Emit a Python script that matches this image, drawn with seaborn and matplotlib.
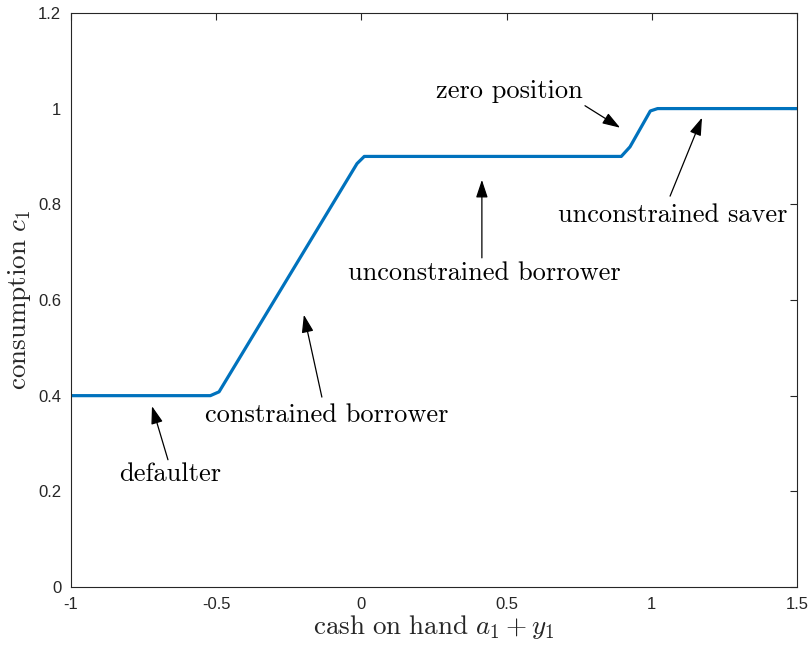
import matplotlib
matplotlib.use("Agg")
import matplotlib.pyplot as plt
import seaborn as sns
import pandas as pd

# Policy function: first-period consumption against cash on hand
cash = [-1.0, -0.52, -0.49, -0.015, 0.01, 0.895, 0.925, 0.995, 1.02, 1.5]
consumption = [0.4, 0.4, 0.408, 0.885, 0.9, 0.9, 0.92, 0.995, 1.0, 1.0]

# Region labels: (text, text position, arrow tail, arrow tip)
labels = ["zero position", "unconstrained saver", "unconstrained borrower",
          "constrained borrower", "defaulter"]
text_xy = [(0.51, 1.037), (1.073, 0.777), (0.425, 0.657), (-0.118, 0.36), (-0.66, 0.237)]
tail_xy = [(0.77, 1.006), (1.063, 0.817), (0.415, 0.688), (-0.136, 0.397), (-0.666, 0.266)]
tip_xy = [(0.891, 0.96), (1.173, 0.981), (0.415, 0.851), (-0.198, 0.569), (-0.721, 0.378)]

x_ticks = [-1, -0.5, 0, 0.5, 1, 1.5]
x_ticklabels = ["-1", "-0.5", "0", "0.5", "1", "1.5"]
y_ticks = [0, 0.2, 0.4, 0.6, 0.8, 1.0, 1.2]
y_ticklabels = ["0", "0.2", "0.4", "0.6", "0.8", "1", "1.2"]

sns.set_theme(style="white")
plt.rcParams["font.family"] = ["Liberation Sans", "DejaVu Sans"]
plt.rcParams["mathtext.fontset"] = "cm"

df = pd.DataFrame({"cash": cash, "consumption": consumption})

fig = plt.figure(figsize=(8.11, 6.48), dpi=100)
ax = fig.add_axes([0.0875, 0.0941, 0.8952, 0.886])

sns.lineplot(data=df, x="cash", y="consumption", ax=ax,
             color=(0.0, 0.447, 0.741), linewidth=2.3)

ax.set_xlim(-1, 1.5)
ax.set_ylim(0, 1.2)
ax.set_xticks(x_ticks)
ax.set_xticklabels(x_ticklabels)
ax.set_yticks(y_ticks)
ax.set_yticklabels(y_ticklabels)

edge = (0.15, 0.15, 0.15)
for s in ax.spines.values():
    s.set_visible(True)
    s.set_color(edge)
    s.set_linewidth(0.8)
ax.tick_params(direction="in", length=5, width=0.8, colors=edge,
               top=True, right=True, labelsize=12, pad=7)
for lab in ax.get_xticklabels() + ax.get_yticklabels():
    lab.set_color((0.15, 0.15, 0.15))

ax.set_xlabel(r"$\mathrm{cash\ on\ hand}\ a_1 + y_1$", fontsize=19.5, labelpad=1)
ax.set_ylabel(r"$\mathrm{consumption}\ c_1$", fontsize=19.5, labelpad=4)

for txt, (tx, ty), (ax0, ay0), (hx, hy) in zip(labels, text_xy, tail_xy, tip_xy):
    ax.text(tx, ty, txt, fontsize=19, family="cmr10", ha="center", va="center",
            color="black")
    ax.annotate("", xy=(hx, hy), xytext=(ax0, ay0),
                arrowprops=dict(arrowstyle="-|>,head_length=0.9,head_width=0.3",
                                color="black", lw=0.9, shrinkA=0, shrinkB=0))

fig.savefig("out.png", dpi=100)
